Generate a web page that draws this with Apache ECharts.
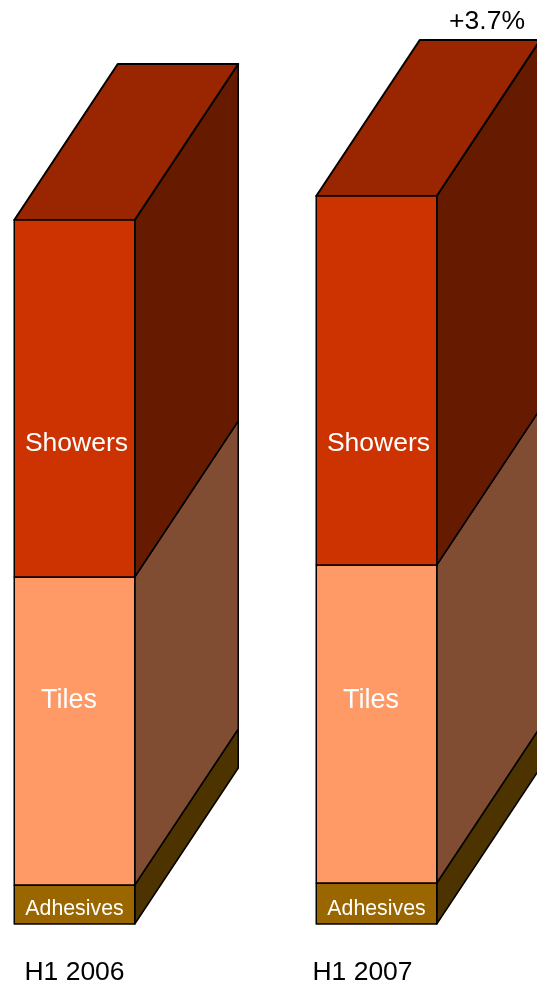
<!DOCTYPE html>
<html>
<head>
<meta charset="utf-8">
<style>html,body{margin:0;padding:0;background:#fff;overflow:hidden}#c{width:537px;height:985px}</style>
<script src="https://cdn.jsdelivr.net/npm/echarts@6/dist/echarts.min.js"></script>
</head>
<body>
<div id="c"></div>
<script>
const categories = ['H1 2006', 'H1 2007'];
const adhesives = [39, 41];
const tiles = [308, 318];
const showers = [357, 369];
const changeLabels = ['', '+3.7%'];

const DX = 103.5, DY = 156, BAR_W = 120.5, FONT = 'Liberation Sans, Arial, sans-serif';
const LINE = '#000';

function segmentSeries(name, values, bases, colors, labelAnchor, labelShift, fontSize, withTop) {
  return {
    name, type: 'custom', silent: true, clip: false, z: 2,
    encode: { x: 0, y: 2 },
    data: values.map((v, i) => [i, bases[i], bases[i] + v]),
    renderItem(params, api) {
      const i = api.value(0);
      const cx = api.coord([i, 0])[0];
      const y0 = api.coord([i, api.value(1)])[1];
      const y1 = api.coord([i, api.value(2)])[1];
      const xl = cx - BAR_W / 2, xr = cx + BAR_W / 2;
      const stroke = { stroke: LINE, lineWidth: 1.5, lineJoin: 'round' };
      const kids = [
        { type: 'polygon', shape: { points: [[xr, y0], [xr + DX, y0 - DY], [xr + DX, y1 - DY], [xr, y1]] },
          style: { fill: colors.side, ...stroke } }
      ];
      if (withTop) {
        kids.push({ type: 'polygon', shape: { points: [[xl, y1], [xl + DX, y1 - DY], [xr + DX, y1 - DY], [xr, y1]] },
          style: { fill: colors.top, ...stroke, lineWidth: 2 } });
      }
      kids.push({ type: 'polygon', shape: { points: [[xl, y0], [xr, y0], [xr, y1], [xl, y1]] },
        style: { fill: colors.front, ...stroke } });
      kids.push({ type: 'text', style: {
        text: name, x: cx + labelShift, y: api.coord([i, labelAnchor])[1],
        fill: '#fff', font: fontSize + 'px ' + FONT, align: 'center', verticalAlign: 'middle' } });
      return { type: 'group', children: kids };
    }
  };
}

const base1 = adhesives;
const base2 = adhesives.map((v, i) => v + tiles[i]);
const totals = base2.map((v, i) => v + showers[i]);

const chart = echarts.init(document.getElementById('c'), null, { renderer: 'canvas' });
chart.setOption({
  animation: false,
  backgroundColor: '#fff',
  grid: { left: 74.5, width: 302, top: 0, height: 924, outerBoundsMode: 'none' },
  xAxis: {
    type: 'category', data: categories, boundaryGap: false,
    axisLine: { show: false }, axisTick: { show: false }, splitLine: { show: false },
    axisLabel: {
      margin: 35, color: '#000', fontFamily: FONT, fontSize: 26.5, interval: 0,
      formatter: v => v === 'H1 2007' ? '{b|' + v + '}' : '{a|' + v + '}',
      rich: {
        a: { fontSize: 26.5, fontFamily: FONT, color: '#000', padding: [0, 0, 0, 0] },
        b: { fontSize: 26.5, fontFamily: FONT, color: '#000', padding: [0, 28, 0, 0] }
      }
    }
  },
  yAxis: { type: 'value', min: 0, max: 924, show: false },
  series: [
    segmentSeries('Adhesives', adhesives, [0, 0], { front: '#996600', side: '#4D3300' }, 15, 0, 21.3, false),
    segmentSeries('Tiles', tiles, base1, { front: '#FF9966', side: '#804D33' }, 223.5, -5.5, 27, false),
    segmentSeries('Showers', showers, base2, { front: '#CC3300', side: '#661A00', top: '#992600' }, 480, 2, 26.5, true),
    {
      name: 'Change', type: 'custom', silent: true, clip: false, z: 3,
      encode: { x: 0, y: 1 },
      data: totals.map((t, i) => [i, t, changeLabels[i]]),
      renderItem(params, api) {
        const i = api.value(0);
        const label = changeLabels[i];
        if (!label) return;
        const p = api.coord([i, api.value(1)]);
        return { type: 'text', style: {
          text: label, x: p[0] + 110.5, y: p[1] - DY - 18,
          fill: '#000', font: '26.5px ' + FONT, align: 'center', verticalAlign: 'middle' } };
      }
    }
  ]
});
</script>
</body>
</html>
